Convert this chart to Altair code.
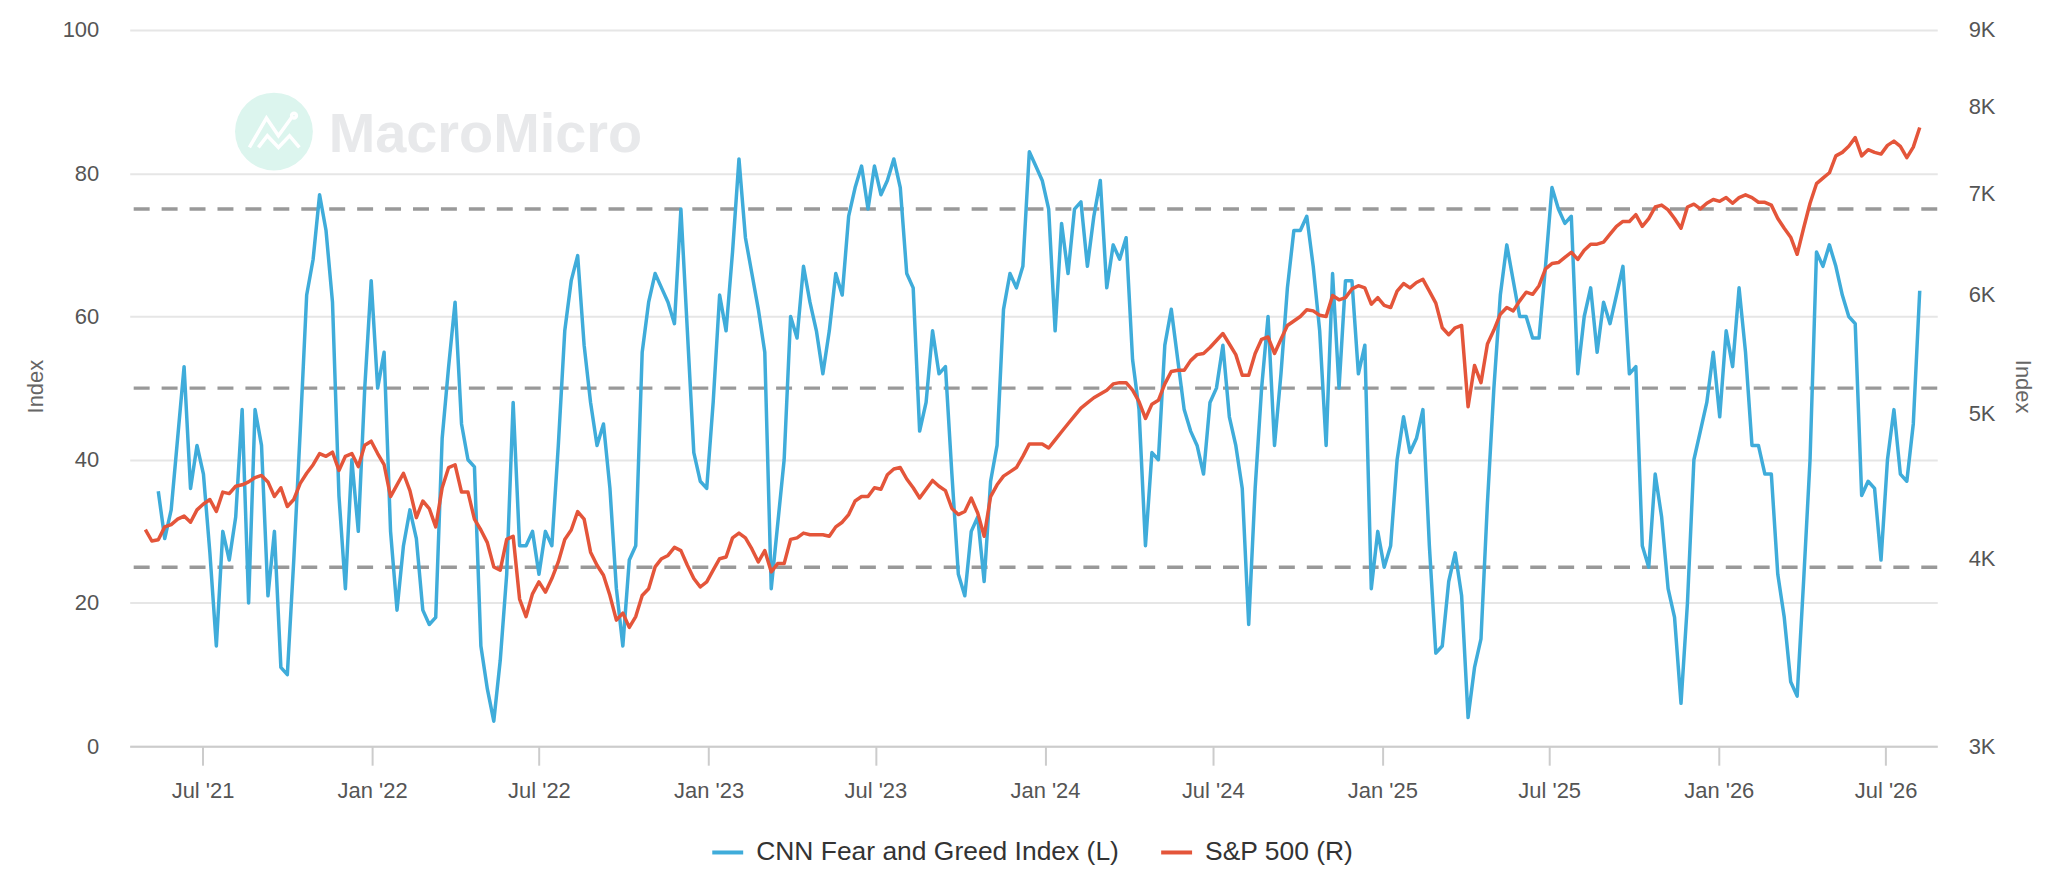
import altair as alt
import pandas as pd

# Weekly readings (Fridays), first week 2021-04-30
WEEK_START = "2021-04-30"

FG_NAME = "CNN Fear and Greed Index (L)"
SPX_NAME = "S&P 500 (R)"
FG_BLUE = "#3FACDA"
SPX_RED = "#E4553A"

# CNN Fear and Greed Index (left axis)
fg_2021 = [None, None, 35.6, 29, 33, 43, 53, 36, 42, 38, 27, 14, 30, 26, 32, 47, 20, 47,
           42, 21, 30, 11, 10, 26, 44, 63, 68, 77, 72, 62, 35, 22, 40, 30, 50, 65]
fg_2022 = [50, 55, 30, 19, 28, 33, 29, 19, 17, 18, 43, 53, 62, 45, 40, 39, 14, 8, 3.5, 12,
           24, 48, 28, 28, 30, 24, 30, 28, 42, 58, 65, 68.5, 56, 48, 42, 45, 36, 22, 14, 26,
           28, 55, 62, 66, 64, 62, 59, 75, 58, 41, 37, 36]
fg_2023 = [48, 63, 58, 69, 82, 71, 66, 61, 55, 22, 31, 40, 60, 57, 67, 62, 58, 52, 58, 66,
           63, 74, 78, 81, 75, 81, 77, 79, 82, 78, 66, 64, 44, 48, 58, 52, 53, 38, 24, 21,
           30, 32, 23, 37, 42, 61, 66, 64, 67, 83, 81, 79]
fg_2024 = [75, 58, 73, 66, 75, 76, 67, 74, 79, 64, 70, 68, 71, 54, 47, 28, 41, 40, 56, 61,
           54, 47, 44, 42, 38, 48, 50, 56, 46, 42, 36, 17, 36, 50, 60, 42, 52, 64, 72, 72,
           74, 67, 58, 42, 66, 50, 65, 65, 52, 56, 22, 30]
fg_2025 = [25, 28, 40, 46, 41, 43, 47, 28, 13, 14, 23, 27, 21, 4, 11, 15, 34, 50, 63, 70,
           65, 60, 60, 57, 57, 67, 78, 75, 73, 74, 52, 60, 64, 55, 62, 59, 63, 67, 52, 53,
           28, 25, 38, 32, 22, 18, 6, 20, 40, 44, 48, 55]
fg_2026 = [46, 58, 53, 64, 55, 42, 42, 38, 38, 24, 18, 9, 7, 23, 40, 69, 67, 70, 67, 63,
           60, 59, 35, 37, 36, 26, 40, 47, 38, 37, 45, 63.6]

# S&P 500 (right axis, log scale)
spx_2021 = [4182, 4110, 4118, 4200, 4215, 4250, 4270, 4230, 4311, 4350,
            4380, 4300, 4430, 4420, 4470, 4480, 4500, 4530, 4545, 4500,
            4400, 4460, 4333, 4380, 4490, 4560, 4620, 4700, 4680, 4710,
            4580, 4680, 4700, 4607, 4760, 4790]
spx_2022 = [4700, 4620, 4400, 4480, 4560, 4440, 4260, 4370, 4320, 4200,
            4460, 4600, 4620, 4430, 4430, 4250, 4180, 4100, 3950, 3930,
            4120, 4140, 3760, 3660, 3790, 3860, 3800, 3880, 3980, 4120,
            4180, 4300, 4250, 4040, 3960, 3900, 3780, 3640, 3680, 3600,
            3660, 3780, 3820, 3950, 4000, 4020, 4070, 4050, 3960, 3880,
            3830, 3860]
spx_2023 = [3930, 4000, 4010, 4130, 4160, 4130, 4060, 3980, 4050, 3920,
            3970, 3970, 4120, 4130, 4160, 4150, 4150, 4150, 4140, 4200,
            4230, 4280, 4370, 4400, 4400, 4460, 4450, 4550, 4590, 4600,
            4520, 4460, 4390, 4450, 4510, 4470, 4440, 4320, 4280, 4300,
            4390, 4290, 4140, 4400, 4480, 4540, 4570, 4600, 4680, 4770,
            4770, 4770]
spx_2024 = [4740, 4800, 4860, 4920, 4980, 5040, 5080, 5120, 5150, 5180,
            5230, 5240, 5240, 5180, 5090, 4960, 5070, 5100, 5230, 5330,
            5340, 5340, 5420, 5470, 5480, 5530, 5590, 5650, 5560, 5470,
            5300, 5300, 5480, 5600, 5620, 5480, 5600, 5720, 5760, 5800,
            5860, 5850, 5810, 5800, 5990, 5950, 5970, 6050, 6080, 6060,
            5910, 5970]
spx_2025 = [5900, 5880, 6030, 6100, 6060, 6110, 6140, 6030, 5920, 5700,
            5640, 5700, 5720, 5050, 5380, 5240, 5560, 5680, 5820, 5880,
            5850, 5940, 6020, 6000, 6080, 6240, 6290, 6300, 6350, 6400,
            6330, 6420, 6480, 6480, 6500, 6580, 6660, 6710, 6710, 6780,
            6660, 6740, 6860, 6880, 6830, 6740, 6640, 6860, 6890, 6840,
            6900, 6940]
spx_2026 = [6920, 6960, 6900, 6960, 6990, 6960, 6910, 6910, 6880, 6740,
            6640, 6550, 6380, 6640, 6900, 7110, 7170, 7230, 7420, 7460,
            7530, 7630, 7420, 7490, 7460, 7440, 7540, 7590, 7530, 7400,
            7520, 7750]

ref_levels = [25, 50, 75]
left_ticks = [0, 20, 40, 60, 80, 100]
right_ticks = [3000, 4000, 5000, 6000, 7000, 8000, 9000]
x_ticks = [(2021, 7)] + [(y, m) for y in range(2022, 2027) for m in (1, 7)]

fear_greed = fg_2021 + fg_2022 + fg_2023 + fg_2024 + fg_2025 + fg_2026
sp500 = spx_2021 + spx_2022 + spx_2023 + spx_2024 + spx_2025 + spx_2026
weeks = pd.date_range(WEEK_START, periods=len(sp500), freq="7D")
df = pd.DataFrame({"date": weeks, "fg": fear_greed, "spx": sp500})

color_scale = alt.Scale(domain=[FG_NAME, SPX_NAME], range=[FG_BLUE, SPX_RED])
legend = alt.Legend(
    title=None, orient="none", legendX=582, legendY=807, direction="horizontal",
    symbolType="stroke", symbolStrokeWidth=4, symbolSize=961, labelFontSize=26.5,
    labelColor="#333333", labelOffset=11, columnPadding=34, labelLimit=700,
)
color_enc = alt.Color("series:N", scale=color_scale, legend=legend)

x_enc = alt.X(
    "date:T", title=None,
    scale=alt.Scale(domain=[alt.DateTime(year=2021, month=4, date=13),
                            alt.DateTime(year=2026, month=8, date=26)]),
    axis=alt.Axis(
        values=[alt.DateTime(year=y, month=m, date=1) for y, m in x_ticks],
        format="%b '%y", grid=False, labelFontSize=22, labelColor="#555555",
        tickSize=19, tickColor="#cccccc", tickWidth=2, domainColor="#cccccc",
        domainWidth=2, labelPadding=15,
    ),
)

fg_y = alt.Y(
    "fg:Q", title="Index", scale=alt.Scale(domain=[0, 100], nice=False),
    axis=alt.Axis(
        orient="left", values=left_ticks, grid=True, gridColor="#e6e6e6", gridWidth=2,
        domain=False, ticks=False, labelPadding=31, labelFontSize=22, labelColor="#555555",
        titleFontSize=22, titleFontWeight="normal", titleColor="#666666",
        titleAngle=270, titleAlign="center", titleBaseline="middle",
        titleX=-94.7, titleY=357,
    ),
)

spx_y = alt.Y(
    "spx:Q", title="Index", scale=alt.Scale(type="log", domain=[3000, 9000], nice=False),
    axis=alt.Axis(
        orient="right", values=right_ticks, labelExpr="(datum.value / 1000) + 'K'",
        grid=False, domain=False, ticks=False, labelPadding=31, labelFontSize=22,
        labelColor="#555555", titleFontSize=22, titleFontWeight="normal",
        titleColor="#666666", titleAngle=90, titleAlign="center", titleBaseline="middle",
        titleX=85, titleY=357,
    ),
)

# MacroMicro watermark
ICON_PATH = ("M-0.82,0.53L-0.25,-0.45L0.15,0.14L0.59,-0.47"
             "M-0.52,0.53L-0.22,0.14L0.15,0.53L0.52,0.14L0.85,0.53"
             "M0.59,-0.53a0.08,0.08 0 1,0 0.16,0a0.08,0.08 0 1,0 -0.16,0")
wm = alt.Chart(pd.DataFrame({"label": ["MacroMicro"]}))
wm_circle = wm.mark_circle(color="#dcf5ee", opacity=1, size=6084).encode(
    x=alt.value(144.6), y=alt.value(101.8))
wm_icon = wm.mark_point(shape=ICON_PATH, filled=False, stroke="white", strokeWidth=3.5,
                        size=3600, opacity=1).encode(x=alt.value(144.6), y=alt.value(101.8))
wm_text = wm.mark_text(text="MacroMicro", align="left", baseline="alphabetic",
                       fontSize=56, fontWeight="bold", color="#e8e9eb").encode(
    x=alt.value(199.5), y=alt.value(122.7))

rules = alt.Chart(pd.DataFrame({"level": ref_levels})).mark_rule(
    color="#999999", strokeWidth=3.5, strokeDash=[16, 12]
).encode(y="level:Q")

fg_line = (
    alt.Chart(df)
    .transform_calculate(series=f"'{FG_NAME}'")
    .mark_line(strokeWidth=3.5, strokeJoin="round")
    .encode(x=x_enc, y=fg_y, color=color_enc)
)

spx_line = (
    alt.Chart(df)
    .transform_calculate(series=f"'{SPX_NAME}'")
    .mark_line(strokeWidth=3.5, strokeJoin="round")
    .encode(x=x_enc, y=spx_y, color=color_enc)
)

left_side = alt.layer(wm_circle, wm_icon, wm_text, rules, fg_line)

chart = (
    alt.layer(left_side, spx_line)
    .resolve_scale(y="independent")
    .properties(
        width=1812, height=718,
        autosize=alt.AutoSizeParams(type="none"),
        padding={"left": 122, "top": 21, "right": 100, "bottom": 121},
        background="white",
    )
    .configure(font="Liberation Sans")
    .configure_view(stroke=None)
)

chart.save("out.html", embed_options={"renderer": "svg", "actions": False})
